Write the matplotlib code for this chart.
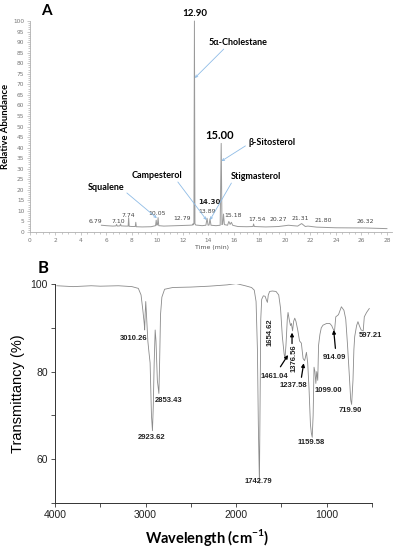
import matplotlib
matplotlib.use("Agg")
import matplotlib.pyplot as plt
from matplotlib.ticker import MultipleLocator

plt.rcParams["mathtext.fontset"] = "custom"
plt.rcParams["mathtext.rm"] = "Lato"
plt.rcParams["mathtext.bf"] = "Lato:bold"

# ---- panel A: GC-MS chromatogram ----
gc_time = [5.6, 6.0, 6.5, 6.75, 6.79, 6.85, 7.05, 7.10, 7.15, 7.5, 7.70, 7.74, 7.78,
           8.0, 8.26, 8.30, 8.34, 8.8, 9.5, 9.85, 9.90, 9.95, 10.00, 10.05, 10.10,
           10.5, 11.5, 12.5, 12.75, 12.79, 12.83, 12.86, 12.90, 12.94, 13.0, 13.5,
           13.8, 13.89, 13.97, 14.05, 14.12, 14.20, 14.6, 14.92, 15.00, 15.06, 15.12,
           15.18, 15.25, 15.5, 15.6, 15.7, 15.8, 15.9, 16.3, 17.0, 17.5, 17.54, 17.6,
           18.5, 19.5, 20.27, 21.0, 21.31, 21.6, 21.80, 22.5, 24.0, 26.32, 28.0]
gc_abund = [3.2, 3.0, 2.8, 2.9, 3.6, 2.8, 2.9, 3.8, 2.9, 2.8, 2.8, 6.8, 2.7,
            2.6, 2.6, 4.6, 2.5, 2.4, 2.5, 3.0, 5.6, 3.2, 3.5, 6.8, 3.0,
            2.8, 3.0, 3.2, 3.3, 3.9, 3.4, 4.0, 100, 4.0, 3.3, 3.0,
            3.2, 6.5, 3.2, 3.3, 6.3, 3.2, 3.0, 3.2, 42, 3.5, 4.0,
            8.5, 3.5, 3.2, 5.0, 3.6, 4.6, 3.2, 2.6, 2.5, 2.6, 3.8, 2.6,
            2.4, 2.6, 3.2, 2.8, 4.0, 2.6, 2.8, 2.3, 2.0, 1.9, 1.6]

# small retention-time labels (text, x, y, bold)
rt_labels = [("6.79", 5.1, 5.2, False), ("7.10", 6.9, 5.2, False), ("7.74", 7.7, 7.6, False),
             ("10.05", 10.0, 9.0, False), ("12.79", 11.9, 6.2, False), ("13.89", 13.9, 9.5, False),
             ("14.30", 14.05, 14.2, True), ("15.18", 15.9, 7.6, False), ("17.54", 17.8, 5.7, False),
             ("20.27", 19.5, 5.7, False), ("21.31", 21.2, 6.2, False), ("21.80", 23.0, 5.4, False),
             ("26.32", 26.3, 5.0, False)]

# compounds: name, label xy, line start, line end (peak)
compounds = [("5α-Cholestane", (16.3, 89.6), (15.2, 86.7), (12.93, 73)),
             ("β-Sitosterol", (19.0, 42.6), (16.9, 40.8), (15.02, 33.6)),
             ("Stigmasterol", (17.7, 26.5), (15.8, 23.2), (14.12, 5.7)),
             ("Campesterol", (10.0, 27.0), (11.6, 23.7), (13.85, 5.7)),
             ("Squalene", (6.0, 20.9), (7.6, 18.5), (9.95, 6.6))]

# ---- panel B: FTIR spectrum ----
ir_wn = [3980, 3800, 3600, 3500, 3300, 3150, 3080, 3050, 3030, 3015, 3010, 3004, 2998,
         2990, 2975, 2963, 2950, 2935, 2924, 2915, 2905, 2894, 2885, 2870, 2853, 2845,
         2835, 2820, 2790, 2700, 2500, 2300, 2100, 2000, 1900, 1830, 1800, 1780, 1765,
         1755, 1743, 1735, 1728, 1718, 1700, 1680, 1665, 1655, 1645, 1630, 1600, 1560,
         1530, 1510, 1490, 1470, 1461, 1450, 1435, 1427, 1415, 1400, 1390, 1377, 1365,
         1353, 1340, 1320, 1300, 1280, 1261, 1245, 1238, 1224, 1210, 1195, 1180, 1170,
         1160, 1150, 1140, 1130, 1120, 1110, 1099, 1090, 1075, 1060, 1041, 1000, 967,
         945, 931, 914, 900, 870, 838, 810, 790, 770, 750, 735, 725, 710, 700, 691,
         670, 655, 640, 620, 597, 585, 560, 530]
ir_trans = [99.6, 99.4, 99.6, 99.5, 99.6, 99.4, 99.0, 97.5, 94.0, 91.0, 89.5, 93.5, 96.0,
            93.0, 87.0, 84.5, 82.0, 70.0, 66.5, 72.0, 82.0, 89.5, 87.0, 78.0, 75.0, 82.0,
            93.0, 97.0, 98.8, 99.2, 99.3, 99.5, 99.8, 100.1, 99.6, 99.2, 98.6, 96.0, 85.0,
            68.0, 54.5, 75.0, 92.0, 96.5, 97.3, 97.2, 96.3, 95.8, 97.5, 98.3, 98.4, 98.3,
            97.5, 94.5, 88.0, 84.0, 83.0, 86.0, 92.0, 93.5, 92.0, 90.5, 91.0, 89.3, 91.5,
            92.2, 91.5, 89.5, 87.0, 86.5, 83.0, 82.5, 83.0, 84.4, 82.0, 76.0, 68.0, 66.0,
            65.0, 70.0, 81.0, 80.0, 77.3, 80.0, 78.0, 86.0, 88.5, 90.0, 90.6, 91.0, 91.0,
            90.5, 89.8, 89.2, 92.5, 93.0, 94.8, 94.0, 92.0, 86.0, 79.0, 73.5, 72.5, 78.0, 85.0, 88.0,
            90.5, 91.4, 90.5, 89.5, 89.3, 92.5, 93.5, 94.4]

# peak labels: text, x, y, rotation
ir_labels = [("3010.26", 3136, 87.6, 0), ("2853.43", 2743, 73.3, 0), ("2923.62", 2934, 65.0, 0),
             ("1742.79", 1758, 54.8, 0), ("1654.62", 1629, 89.1, 90), ("1461.04", 1574, 78.8, 0),
             ("1376.56", 1364, 83.0, 90), ("1237.58", 1372, 76.9, 0), ("1159.58", 1177, 63.8, 0),
             ("1099.00", 986, 75.6, 0), ("914.09", 912, 83.2, 0), ("719.90", 735, 71.2, 0),
             ("597.21", 518, 88.2, 0)]
ir_arrows = [((1511, 81.1), (1427, 83.8)), ((1383, 86.4), (1383, 88.9)),
             ((1279, 78.7), (1254, 81.9)), ((904, 85.3), (923, 89.5))]

fig = plt.figure(figsize=(3.96, 5.5), dpi=100)

# panel A
ax = fig.add_axes([30 / 396, 1 - 232 / 550, 362 / 396, 211 / 550])
ax.plot(gc_time, gc_abund, color="#9a9a9a", lw=0.7, clip_on=False)
ax.set_xlim(0, 28.4)
ax.set_ylim(0, 100)
for s in ["top", "right"]:
    ax.spines[s].set_visible(False)
for s in ["left", "bottom"]:
    ax.spines[s].set_color("#b0b0b0")
    ax.spines[s].set_linewidth(0.6)
ax.xaxis.set_major_locator(MultipleLocator(2))
ax.xaxis.set_minor_locator(MultipleLocator(0.5))
ax.yaxis.set_major_locator(MultipleLocator(5))
ax.yaxis.set_minor_locator(MultipleLocator(1))
ax.tick_params(which="both", colors="#b0b0b0", labelcolor="#777777", labelsize=4.2,
               width=0.5, pad=1.5)
ax.tick_params(which="major", length=2.5)
ax.tick_params(which="minor", length=1.2)
ax.set_ylabel("Relative Abundance", fontsize=6.8, fontweight="bold", family="Lato")
ax.yaxis.set_label_coords(-0.055, 0.5)
ax.set_xlabel("Time (min)", fontsize=4.5, color="#555555", labelpad=1)
ax.xaxis.set_label_coords(182 / 362, -0.06)

for txt, x, y, b in rt_labels:
    ax.text(x, y, txt, fontsize=5 if b else 4.4, fontweight="bold" if b else "normal",
            color="#222222" if b else "#444444", ha="center", va="center")
for name, lab, p0, p1 in compounds:
    ax.text(lab[0], lab[1], name, fontsize=6.5, fontweight="bold", family="Lato",
            ha="center", va="center")
    ax.annotate("", xy=p1, xytext=p0,
                arrowprops=dict(arrowstyle="->", color="#8fbce6", lw=0.6, shrinkA=0, shrinkB=0,
                                mutation_scale=4))
ax.text(12.9, 103.5, "12.90", fontsize=7, fontweight="bold", family="Lato",
        ha="center", va="center")
ax.text(14.9, 45.5, "15.00", fontsize=8, fontweight="bold", family="Lato",
        ha="center", va="center")
fig.text(46 / 396, 1 - 11 / 550, "A", fontsize=11, fontweight="bold", family="Lato",
         ha="center", va="center")

# panel B
bx = fig.add_axes([55 / 396, 1 - 503 / 550, 317 / 396, 219 / 550])
bx.plot(ir_wn, ir_trans, color="#8a8a8a", lw=0.6)
bx.set_xlim(4000, 500)
bx.set_ylim(50, 100)
for s in ["top", "right"]:
    bx.spines[s].set_visible(False)
for s in ["left", "bottom"]:
    bx.spines[s].set_color("#333333")
    bx.spines[s].set_linewidth(0.7)
bx.set_xticks([4000, 3000, 2000, 1000])
bx.xaxis.set_minor_locator(MultipleLocator(500))
bx.set_yticks([60, 80, 100])
bx.yaxis.set_minor_locator(MultipleLocator(10))
bx.tick_params(which="both", labelsize=7.5, width=0.6, length=3, color="#333333",
               labelcolor="#222222", pad=2)
for lbl in bx.get_xticklabels() + bx.get_yticklabels():
    lbl.set_family("Liberation Sans")
bx.set_ylabel("Transmittancy (%)", fontsize=10.5, family="Liberation Sans", labelpad=4)
fig.text(207 / 396, 1 - 538 / 550, r"Wavelength (cm$^{\mathbf{-1}}$)", fontsize=10.5,
         fontweight="bold", family="Lato", ha="center", va="center")

for txt, x, y, rot in ir_labels:
    bx.text(x, y, txt, fontsize=5.5, fontweight="bold", color="#222222", rotation=rot,
            family="Liberation Sans", ha="center", va="center", clip_on=False)
for p0, p1 in ir_arrows:
    bx.annotate("", xy=p1, xytext=p0,
                arrowprops=dict(arrowstyle="-|>", color="black", lw=0.9, shrinkA=0, shrinkB=0,
                                mutation_scale=5))
fig.text(43 / 396, 1 - 268 / 550, "B", fontsize=12, fontweight="bold", family="Lato",
         ha="center", va="center")

fig.savefig("out.png", dpi=100, facecolor="white")
